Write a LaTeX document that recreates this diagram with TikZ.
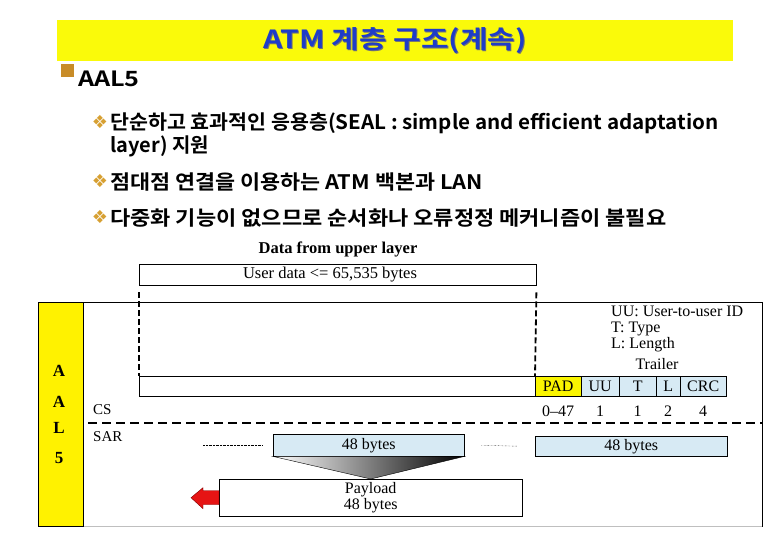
\documentclass[tikz,border=0pt]{standalone}
\usepackage{fontspec}
\usepackage{graphicx}
\setmainfont{Liberation Serif}
\newfontfamily\kfont{Noto Sans CJK KR Bold}
\newfontfamily\symfont{DejaVu Sans}
\usepackage{xcolor}
\usepackage{tikz}
\usetikzlibrary{positioning, arrows.meta}

\definecolor{titleyellow}{RGB}{250,250,10}
\definecolor{titleblue}{RGB}{30,60,200}
\definecolor{bulletbrown}{RGB}{200,140,40}
\definecolor{diamondgold}{RGB}{215,160,50}
\definecolor{cellblue}{RGB}{215,234,244}
\definecolor{padyellow}{RGB}{250,245,0}
\definecolor{arrowred}{RGB}{230,20,20}

\newcommand{\wide}[2]{\scalebox{#1}[1]{#2}}

\begin{document}
\begin{tikzpicture}[x=1pt, y=-1pt,
    box/.style={draw, inner sep=0pt, anchor=north west},
    cell/.style={box, fill=cellblue, font=\fontsize{16}{16}\selectfont},
    lbl/.style={inner sep=0pt, font=\fontsize{16}{16}\selectfont},
    kline/.style={inner sep=0pt, anchor=west, font=\kfont\fontsize{20}{20}\selectfont},
    diam/.style={inner sep=0pt, text=diamondgold, font=\symfont\fontsize{18}{18}\selectfont},
    dashline/.style={dash pattern=on 9pt off 5pt, line width=1.6pt},
    vdashline/.style={dash pattern=on 6pt off 3pt, line width=1.8pt}]
    \useasboundingbox (0,0) rectangle (780,540);
    \fill[white] (0,0) rectangle (780,540);

    % title
    \node[box, draw=none, fill=titleyellow, minimum width=676pt, minimum height=41pt] (titlebar) at (57,20) {};
    \node[inner sep=0pt, text=black!55, font=\kfont\fontsize{25}{25}\selectfont] at ([shift={(1pt,-1pt)}]titlebar.center) {\wide{1.2}{ATM 계층 구조(계속)}};
    \node[inner sep=0pt, text=titleblue, font=\kfont\fontsize{25}{25}\selectfont] (title) at (titlebar.center) {\wide{1.2}{ATM 계층 구조(계속)}};

    % bullets
    \node[box, draw=none, fill=bulletbrown, minimum size=13pt] (sq) at (61,64) {};
    \node[kline, font=\kfont\fontsize{21}{21}\selectfont] (aal) at (78,79) {\wide{1.2}{AAL5}};
    \foreach \y/\name in {122/b1, 181/b2, 217/b3} {
        \node[diam] (\name) at (100,\y) {❖};
    }
    \node[kline] (line1) at (110,123) {\wide{1.03}{단순하고 효과적인 응용층(SEAL : simple and efficient adaptation}};
    \node[kline] (line1b) at (110,146) {layer) 지원};
    \node[kline] (line2) at (110,182) {\wide{1.09}{점대점 연결을 이용하는 ATM 백본과 LAN}};
    \node[kline] (line3) at (110,218) {\wide{1.10}{다중화 기능이 없으므로 순서화나 오류정정 메커니즘이 불필요}};

    % upper layer
    \node[inner sep=0pt, font=\bfseries\fontsize{16.5}{16.5}\selectfont] (upper) at (338,249) {Data from upper layer};
    \node[box, minimum width=397pt, minimum height=21pt] (user) at (139,264) {};
    \node[lbl, font=\fontsize{16.5}{16.5}\selectfont] (usertxt) at (330,274.5) {User data <= 65,535 bytes};

    % AAL5 frame
    \node[box, minimum width=724pt, minimum height=224pt] (frame) at (38,302) {};
    \draw[gray!50, line width=1pt] (frame.south west) -- (frame.south east);
    \node[box, fill=yellow, minimum width=45pt, minimum height=224pt] (aalcol) at (38,302) {};
    \foreach \y/\ch in {371/A, 402/A, 428/L, 458/5} {
        \node[inner sep=0pt, font=\bfseries\fontsize{17}{17}\selectfont] (ch\y) at (59,\y) {\ch};
    }

    % CS
    \node[box, minimum width=396pt, minimum height=20pt] (data) at (139,376) {};
    \foreach \name/\xa/\cw/\lab/\num/\col in {pad/535/46/PAD/0--47/padyellow, uu/581/38/UU/1/cellblue,
        t/619/37/T/1/cellblue, l/656/24/L/2/cellblue, crc/680/46/CRC/4/cellblue} {
        \node[cell, fill=\col, minimum width=\cw pt, minimum height=20pt] (\name) at (\xa,376) {\lab};
        \node[lbl, below=9pt of \name] (num\name) {\num};
    }
    \draw[vdashline] ([yshift=-7pt]user.south west) -- (data.north west);
    \draw[vdashline] ([yshift=-7pt]user.south east) -- (pad.north west);
    \node[lbl] (trailer) at (657,364) {Trailer};
    \node[lbl, anchor=west, align=left, font=\fontsize{16}{15.5}\selectfont] (legend) at (611,329) {UU: User-to-user ID\\[0.5pt]T: Type\\[0.5pt]L: Length};
    \node[lbl, anchor=west, font=\fontsize{15}{15}\selectfont] (cs) at (93,410) {CS};

    % SAR
    \coordinate (sepl) at (88,423);
    \draw[dashline] (sepl) -- (sepl -| frame.east);
    \node[lbl, anchor=west, font=\fontsize{15}{15}\selectfont] (sar) at (93,437) {SAR};
    \node[cell, minimum width=191pt, minimum height=22pt] (seg1) at (273,434) {48 bytes};
    \node[cell, minimum width=192pt, minimum height=20pt] (seg2) at (535,436) {48 bytes};
    \draw[densely dotted] ([xshift=-70pt]seg1.west) -- ([xshift=-10pt]seg1.west);
    \draw[densely dotted] ([xshift=17pt]seg1.east) -- ([xshift=-18pt]seg2.west);

    \node[box, minimum width=303pt, minimum height=37pt, align=center, font=\fontsize{16}{16}\selectfont] (payload) at (219,479) {Payload\\48 bytes};
    \shade[left color=white, right color=black, draw=black] (seg1.south west) -- (seg1.south east) -- (payload.north) -- cycle;

    % red arrow
    \filldraw[fill=arrowred, draw=red!50!black] (payload.west) ++(0,-7) -- ++(-16,0) -- ++(0,-3) -- ++(-12,10)
        -- ++(12,11) -- ++(0,-4) -- ++(16,0) -- cycle;
\end{tikzpicture}
\end{document}
